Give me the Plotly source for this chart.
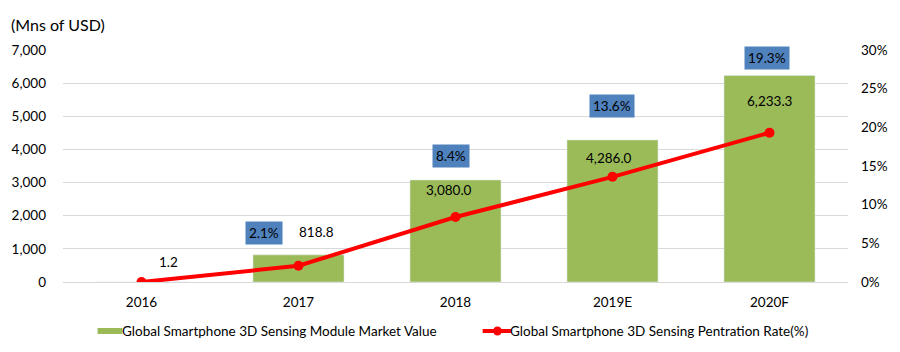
import plotly.graph_objects as go

categories = ["2016", "2017", "2018", "2019E", "2020F"]
market_value = [1.2, 818.8, 3080.0, 4286.0, 6233.3]
value_labels = ["1.2", "818.8", "3,080.0", "4,286.0", "6,233.3"]
penetration = [0.0, 2.1, 8.4, 13.6, 19.3]
pct_labels = ["", "2.1%", "8.4%", "13.6%", "19.3%"]
left_ticks = [0, 1000, 2000, 3000, 4000, 5000, 6000, 7000]
left_tick_text = ["0", "1,000", "2,000", "3,000", "4,000", "5,000", "6,000", "7,000"]
right_ticks = [0, 5, 10, 15, 20, 25, 30]
right_tick_text = ["0%", "5%", "10%", "15%", "20%", "25%", "30%"]

# label offsets in pixels (style / placement only)
val_dx = [27, 18, -7, -4, 0]
val_dy = [20, 23, -10, -18, -26]
pct_dx = [0, -35, -5, -1, -3]
pct_dy = [0, 22, 24, 34, 17]

FONT = "Lato"
GREEN = "#9BBB59"
RED = "#FF0000"
BLUE = "#4F81BD"

L, R, T, B = 58, 47, 50, 70
W, H = 900, 352
PW, PH = W - L - R, H - T - B

def px(x):
    return (x - L) / PW

def py(y):
    return (H - B - y) / PH

fig = go.Figure()
fig.add_trace(go.Bar(x=categories, y=market_value, marker_color=GREEN,
                     name="Global Smartphone 3D Sensing Module Market Value",
                     yaxis="y", showlegend=False))
fig.add_trace(go.Scatter(x=categories, y=penetration, mode="lines+markers",
                         line=dict(color=RED, width=4), marker=dict(color=RED, size=10),
                         name="Global Smartphone 3D Sensing Pentration Rate(%)",
                         yaxis="y2", showlegend=False))

ann = []
for i, c in enumerate(categories):
    # category axis: annotation x given as the category's serial index
    ann.append(dict(x=i, y=market_value[i], xref="x", yref="y", text=value_labels[i],
                    showarrow=False, xshift=val_dx[i], yshift=val_dy[i],
                    font=dict(family=FONT, size=13.5, color="#000")))
    if pct_labels[i]:
        ann.append(dict(x=i, y=market_value[i], xref="x", yref="y", text=pct_labels[i],
                        showarrow=False, xshift=pct_dx[i], yshift=pct_dy[i],
                        bgcolor=BLUE, borderpad=3,
                        font=dict(family=FONT, size=13.5, color="#000")))

ann.append(dict(x=px(3), y=py(25), xref="paper", yref="paper", text="(Mns of USD)",
                showarrow=False, xanchor="left", yanchor="middle",
                font=dict(family=FONT, size=16, color="#000")))
ann.append(dict(x=px(116), y=py(331), xref="paper", yref="paper",
                text="Global Smartphone 3D Sensing Module Market Value",
                showarrow=False, xanchor="left", yanchor="middle",
                font=dict(family=FONT, size=13.5, color="#000")))
ann.append(dict(x=px(509), y=py(331), xref="paper", yref="paper",
                text="Global Smartphone 3D Sensing Pentration Rate(%)",
                showarrow=False, xanchor="left", yanchor="middle",
                font=dict(family=FONT, size=13.5, color="#000")))

shapes = [
    dict(type="rect", xref="paper", yref="paper", x0=px(93), x1=px(118),
         y0=py(334), y1=py(328), fillcolor=GREEN, line=dict(width=0)),
    dict(type="line", xref="paper", yref="paper", x0=px(483), x1=px(512),
         y0=py(331), y1=py(331), line=dict(color=RED, width=4)),
    dict(type="circle", xref="paper", yref="paper", x0=px(493.5), x1=px(502.5),
         y0=py(335.5), y1=py(326.5), fillcolor=RED, line=dict(width=0)),
]

fig.update_layout(
    width=W, height=H, margin=dict(l=L, r=R, t=T, b=B),
    paper_bgcolor="white", plot_bgcolor="white",
    bargap=0.42,
    font=dict(family=FONT, size=13, color="#000"),
    xaxis=dict(type="category", categoryorder="array", categoryarray=categories,
               range=[-0.5, len(categories) - 0.5], autorange=False,
               showgrid=False, showline=False, ticks="", tickfont=dict(family=FONT, size=13.5),
               ticklabelstandoff=10),
    yaxis=dict(range=[0, 7000], tickvals=left_ticks, ticktext=left_tick_text,
               showgrid=True, gridcolor="#D9D9D9", gridwidth=1, zeroline=True,
               zerolinecolor="#D9D9D9", zerolinewidth=1, showline=False, ticks="",
               ticklabelstandoff=16, tickfont=dict(family=FONT, size=13.5)),
    yaxis2=dict(range=[0, 30], tickvals=right_ticks, ticktext=right_tick_text,
                overlaying="y", side="right", showgrid=False, zeroline=False,
                showline=False, ticks="", ticklabelstandoff=12,
                tickfont=dict(family=FONT, size=13.5)),
    annotations=ann, shapes=shapes,
)

fig.write_html("out.html")
